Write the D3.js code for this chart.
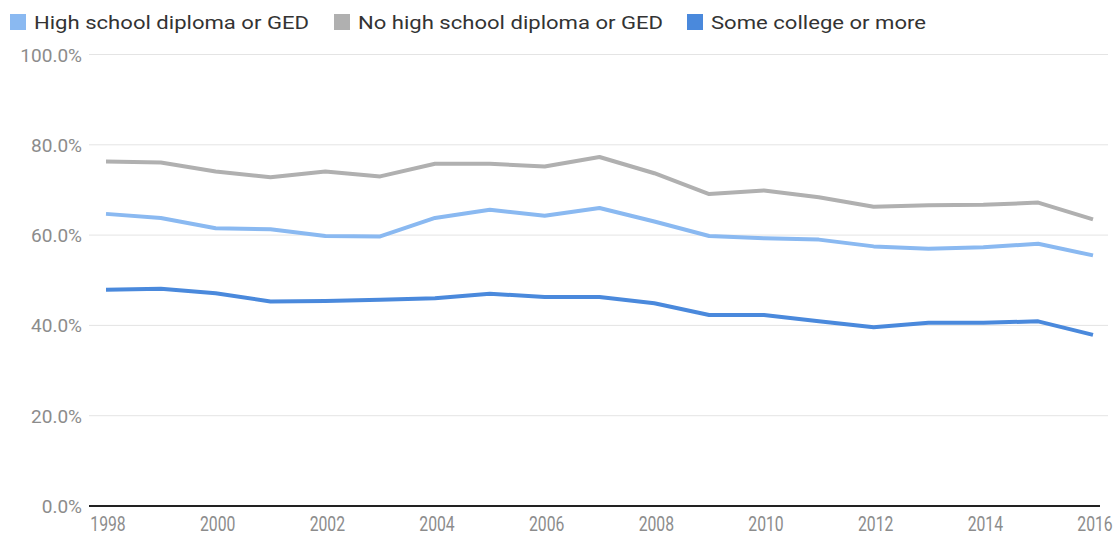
<!DOCTYPE html>
<html>
<head>
<meta charset="utf-8">
<title>Employment by education</title>
<script src="https://d3js.org/d3.v7.min.js"></script>
<style>
  body { margin: 0; background: #fff; }
  text { font-family: Roboto, "Noto Sans", sans-serif; }
</style>
</head>
<body>
<script>
// data
var years = [1998, 1999, 2000, 2001, 2002, 2003, 2004, 2005, 2006, 2007, 2008, 2009, 2010, 2011, 2012, 2013, 2014, 2015, 2016];
var highSchool = [64.7, 63.8, 61.5, 61.3, 59.8, 59.7, 63.8, 65.6, 64.3, 66.0, 63.0, 59.8, 59.3, 59.0, 57.5, 57.0, 57.3, 58.1, 55.5];
var noHighSchool = [76.3, 76.1, 74.1, 72.8, 74.1, 73.0, 75.8, 75.8, 75.2, 77.3, 73.7, 69.1, 69.9, 68.4, 66.3, 66.6, 66.7, 67.2, 63.5];
var someCollege = [47.9, 48.1, 47.1, 45.3, 45.4, 45.7, 46.0, 47.0, 46.3, 46.3, 44.9, 42.3, 42.3, 40.9, 39.6, 40.6, 40.6, 40.9, 37.9];
var seriesNames = ['High school diploma or GED', 'No high school diploma or GED', 'Some college or more'];
var seriesColors = ['#8ab9f1', '#b0b0b0', '#4a89dc'];
var yTicks = [0, 20, 40, 60, 80, 100];
var xTicks = [1998, 2000, 2002, 2004, 2006, 2008, 2010, 2012, 2014, 2016];

var width = 1120, height = 537;
var svg = d3.select('body').append('svg')
  .attr('width', width)
  .attr('height', height);

var x = d3.scaleLinear().domain([1998, 2016]).range([106, 1093]);
var y = d3.scaleLinear().domain([0, 100]).range([506, 54.5]);

// gridlines
svg.append('g').selectAll('line')
  .data(yTicks.filter(function(d) { return d > 0; }))
  .enter().append('line')
  .attr('x1', 89).attr('x2', 1108)
  .attr('y1', function(d) { return y(d); })
  .attr('y2', function(d) { return y(d); })
  .attr('stroke', '#e4e4e4')
  .attr('stroke-width', 1);

// y labels
svg.append('g').selectAll('text')
  .data(yTicks)
  .enter().append('text')
  .attr('x', 82)
  .attr('y', function(d) { return y(d) + 7; })
  .attr('text-anchor', 'end')
  .attr('font-size', 19)
  .attr('fill', '#8c8c8c')
  .text(function(d) { return d.toFixed(1) + '%'; });

// lines
var all = [highSchool, noHighSchool, someCollege];
var line = d3.line()
  .x(function(d, i) { return x(years[i]); })
  .y(function(d) { return y(d); });

svg.append('g').selectAll('path')
  .data(all)
  .enter().append('path')
  .attr('d', function(d) { return line(d); })
  .attr('fill', 'none')
  .attr('stroke', function(d, i) { return seriesColors[i]; })
  .attr('stroke-width', 4)
  .attr('stroke-linejoin', 'round');

// baseline
svg.append('line')
  .attr('x1', 89).attr('x2', 1100)
  .attr('y1', y(0)).attr('y2', y(0))
  .attr('stroke', '#222')
  .attr('stroke-width', 2);

// x labels (narrow look)
svg.append('g').selectAll('text')
  .data(xTicks)
  .enter().append('text')
  .attr('transform', function(d) { return 'translate(' + (x(d) + 2) + ',531) scale(0.75,1)'; })
  .attr('text-anchor', 'middle')
  .attr('font-size', 21)
  .attr('fill', '#8c8c8c')
  .text(function(d) { return d; });

// legend
var legendX = [10, 334, 687];
var legendW = [275, 305, 215];
var lg = svg.append('g').selectAll('g')
  .data(seriesNames)
  .enter().append('g')
  .attr('transform', function(d, i) { return 'translate(' + legendX[i] + ',0)'; });
lg.append('rect')
  .attr('x', 0).attr('y', 14)
  .attr('width', 16).attr('height', 16)
  .attr('fill', function(d, i) { return seriesColors[i]; });
lg.append('text')
  .attr('x', 24).attr('y', 29)
  .attr('font-size', 19)
  .attr('fill', '#333')
  .attr('textLength', function(d, i) { return legendW[i]; })
  .attr('lengthAdjust', 'spacingAndGlyphs')
  .text(function(d) { return d; });
</script>
</body>
</html>
